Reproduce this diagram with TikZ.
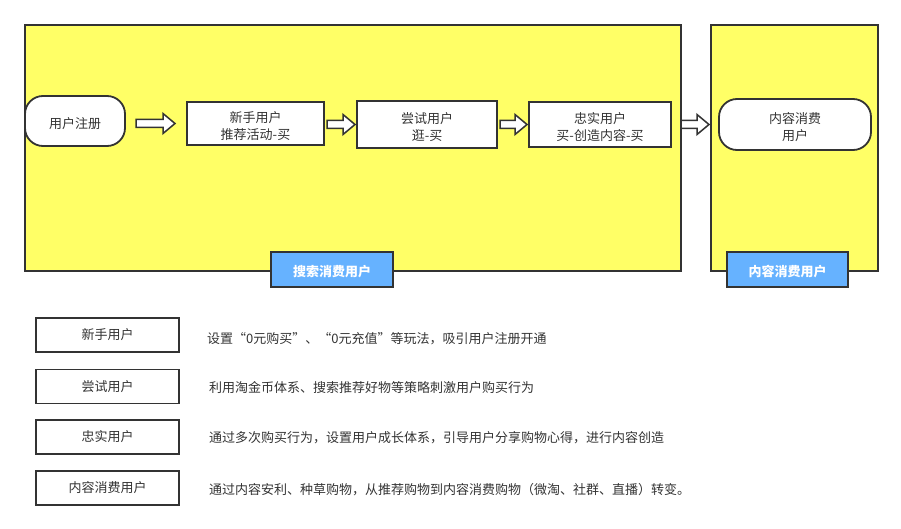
\documentclass[tikz,border=0pt]{standalone}
\usepackage{fontspec}
\setmainfont{Noto Sans CJK SC}
\usetikzlibrary{calc}
\definecolor{ylw}{HTML}{FFFF66}
\definecolor{blu}{HTML}{66B2FF}
\definecolor{dk}{HTML}{333333}
\newcommand\dnstrut{\rule{0pt}{16.5pt}}
\newcommand\blk[4]{\draw[barrow] let \p1=($(#1.east)+(#2,0)$), \p2=($(#3.west)+(-#4,0)$) in
  (\x1,\y2+4pt) -- (\x2-12pt,\y2+4pt) -- (\x2-12pt,\y2+10pt) -- (\x2,\y2) -- (\x2-12pt,\y2-10pt) -- (\x2-12pt,\y2-4pt) -- (\x1,\y2-4pt) -- cycle;}
\begin{document}
\begin{tikzpicture}[x=1pt,y=-1pt,
  font=\fontsize{13}{17}\selectfont, text=dk,
  zone/.style={draw=dk, fill=ylw, line width=1.8pt, inner sep=0pt, outer sep=0pt},
  tag/.style={draw=dk, fill=blu, line width=1.8pt, inner sep=0pt, outer sep=0pt, text=white, font=\fontsize{13}{16}\selectfont\bfseries},
  stepbox/.style={draw=dk, fill=white, line width=1.8pt, inner sep=0pt, outer sep=0pt, align=center},
  pill/.style={stepbox, rounded corners=18pt},
  legbox/.style={draw=dk, fill=white, line width=1.8pt, inner sep=0pt, outer sep=0pt, minimum width=143, minimum height=34},
  desc/.style={anchor=west, inner sep=0pt},
  barrow/.style={draw=dk, fill=white, line width=1.5pt, line join=miter}]
\useasboundingbox (0,0) rectangle (901,529);
% zones
\node[zone, minimum width=656, minimum height=246] (z1) at (353,148) {};
\node[zone, minimum width=167, minimum height=246] (z2) at (794.5,148) {};
\node[tag, minimum width=122, minimum height=35] (t1) at (332,269.5) {\rule{0pt}{14.5pt}搜索消费用户};
\node[tag, minimum width=121, minimum height=35] (t2) at (787.5,269.5) {\rule{0pt}{14.5pt}内容消费用户};
% flow
\node[pill, minimum width=100, minimum height=50] (reg) at (75,121) {\dnstrut 用户注册};
\node[stepbox, minimum width=137, minimum height=43] (n1) at (255.5,123.5) {\dnstrut 新手用户\\推荐活动-买};
\node[stepbox, minimum width=140, minimum height=47] (n2) at (427,124.5) {\dnstrut 尝试用户\\逛-买};
\node[stepbox, minimum width=142, minimum height=45] (n3) at (600,124.5) {\dnstrut 忠实用户\\买-创造内容-买};
\node[pill, minimum width=152, minimum height=51] (cu) at (795,124.5) {\dnstrut 内容消费\\用户};
\blk{reg}{11}{n1}{12}
\blk{n1}{3}{n2}{2}
\blk{n2}{3}{n3}{2}
\blk{n3}{10}{cu}{10}
% legend
\node[legbox] (l1) at (107.5,335) {新手用户};
\node[legbox] (l2) at (107.5,386.5) {尝试用户};
\node[legbox] (l3) at (107.5,437) {忠实用户};
\node[legbox] (l4) at (107.5,488) {内容消费用户};
\node[desc] (d1) at (207,339) {设置“0元购买”、“0元充值”等玩法，吸引用户注册开通};
\node[desc] (d2) at (209,387.5) {利用淘金币体系、搜索推荐好物等策略刺激用户购买行为};
\node[desc] (d3) at (209,438) {通过多次购买行为，设置用户成长体系，引导用户分享购物心得，进行内容创造};
\node[desc] (d4) at (209,489.5) {通过内容安利、种草购物，从推荐购物到内容消费购物（微淘、社群、直播）转变。};
\end{tikzpicture}
\end{document}
